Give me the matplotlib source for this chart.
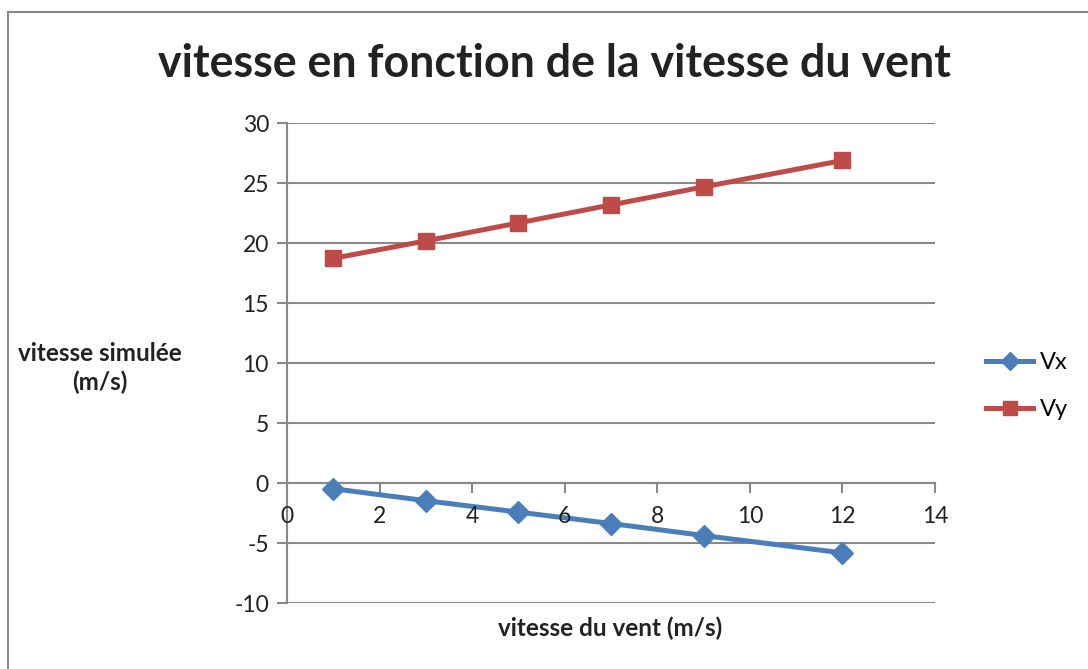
import matplotlib as mpl
import matplotlib.pyplot as plt
from matplotlib.patches import Rectangle

vent = [1, 3, 5, 7, 9, 12]
vx = [-0.45, -1.45, -2.4, -3.35, -4.35, -5.8]
vy = [18.75, 20.2, 21.7, 23.2, 24.7, 26.9]
x_ticks = [0, 2, 4, 6, 8, 10, 12, 14]
y_ticks = [-10, -5, 0, 5, 10, 15, 20, 25, 30]

mpl.rcParams["font.family"] = ["Lato", "DejaVu Sans"]
mpl.rcParams["axes.unicode_minus"] = False
grey = "#898989"

fig = plt.figure(figsize=(10.88, 6.69), dpi=100)
ax = fig.add_axes([0.2638, 0.0982, 0.8594 - 0.2638, 0.8157 - 0.0982])

# chart area border (left and top visible)
fig.patches.append(Rectangle((8 / 1088, -0.05), 1.2, 1 - 12 / 669 + 0.05,
                             transform=fig.transFigure, fill=False,
                             edgecolor=grey, linewidth=1.5))

ax.plot(vent, vx, color="#4A7EBB", linewidth=3.6, marker="D", markersize=11,
        label="Vx")
ax.plot(vent, vy, color="#BE4B48", linewidth=3.6, marker="s", markersize=12,
        label="Vy")

ax.set_xlim(0, 14)
ax.set_ylim(-10, 30)
ax.set_xticks(x_ticks)
ax.set_yticks(y_ticks)
ax.yaxis.grid(True, color=grey, linewidth=1.5)
ax.set_axisbelow(True)

for s in ["top", "right", "bottom"]:
    ax.spines[s].set_visible(False)
ax.spines["left"].set_color(grey)
ax.spines["left"].set_linewidth(1.5)

# x axis crossing at y = 0 like in excel
ax.axhline(0, color=grey, linewidth=1.5, zorder=1)
for t in x_ticks:
    ax.plot([t, t], [0, -0.7], color=grey, linewidth=1.5, zorder=1,
            clip_on=False)
    ax.text(t, -1.9, str(t), ha="center", va="top", fontsize=16.5,
            color="#222222")
ax.tick_params(axis="x", bottom=False, labelbottom=False)
ax.tick_params(axis="y", length=7, width=1.5, color=grey, labelsize=16.5,
               labelcolor="#222222", pad=6)

fig.text(554 / 1088, 0.905, "vitesse en fonction de la vitesse du vent",
         ha="center", va="center", fontsize=32.2, fontweight="bold",
         color="#222222")
fig.text(100 / 1088, 1 - 368 / 669, "vitesse simulée\n(m/s)", ha="center",
         va="center", fontsize=17.5, fontweight="bold", color="#222222",
         linespacing=1.25)
fig.text(610 / 1088, 1 - 628 / 669, "vitesse du vent (m/s)", ha="center",
         va="center", fontsize=17.5, fontweight="bold", color="#222222")

ax.legend(loc="center left", bbox_to_anchor=(986 / 1088, 1 - 386 / 669),
          bbox_transform=fig.transFigure, frameon=False, fontsize=17,
          handlelength=2.0, handletextpad=0.3, labelspacing=1.1,
          markerscale=0.8, borderaxespad=0, borderpad=0)

plt.savefig("out.png", dpi=100)
